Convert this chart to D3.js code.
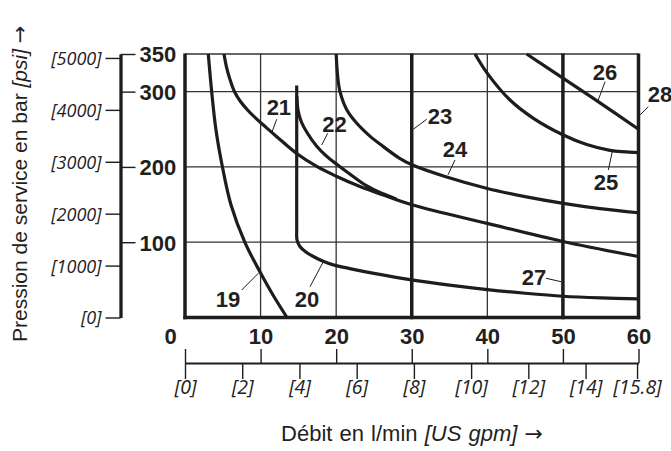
<!DOCTYPE html>
<html>
<head>
<meta charset="utf-8">
<script src="https://cdn.jsdelivr.net/npm/d3@7"></script>
<style>
  html, body { margin: 0; padding: 0; background: #fff; }
  svg { display: block; }
  .num { font-family: "Liberation Sans", Arial, sans-serif; font-weight: bold; fill: #231f20; }
  .ital { font-family: "Open Sans", "DejaVu Sans", sans-serif; font-style: italic; font-weight: 400; fill: #222; }
  .title { font-family: "Liberation Sans", Arial, sans-serif; fill: #231f20; }
  .arrow { font-family: "DejaVu Sans", sans-serif; font-style: normal; }
</style>
</head>
<body>
<svg id="chart" width="671" height="451"></svg>
<script>
// ---- axis ticks ----
const flowTicks = [0, 10, 20, 30, 40, 50, 60];          // l/min
const pressureTicks = [100, 200, 300, 350];              // bar
const psiTicks = [0, 1000, 2000, 3000, 4000, 5000];      // psi
const gpmTicks = [0, 2, 4, 6, 8, 10, 12, 14, 15.8];      // US gpm
const thinFlowGrid = [10, 20, 40];
const pressureGrid = [100, 200, 300, 350];

// ---- operating limit curves: [flow l/min, pressure bar] ----
const curve19 = [[3.08,350],[3.53,300],[4.10,249],[4.96,199.6],[6.09,149.5],[7.94,99.4],[10.02,58.8],[11.64,29.9],[13.5,0]];
const curve20 = [[14.78,308],[14.78,200],[14.78,118],[14.82,103],[15.2,94.3],[16.0,87],[16.98,81],[18.2,75],[19.62,69.9],[21.8,65],[25,58.6],[29.77,50.3],[35,43],[40,37.1],[45,32.2],[50,28.2],[55,26],[60,24.7]];
const curve21 = [[5.16,350],[5.49,332.7],[5.95,316.3],[6.55,299.9],[7.34,286.9],[8.34,275.0],[9.46,263.9],[10.72,252.6],[12.14,240.2],[14.78,217.8],[17.43,200.6],[19.94,188.0],[23.15,174.0],[26.24,162.7],[30.13,149.4],[40,125],[50,101],[60,81]];
const curve22 = [[14.8,294],[14.95,275.6],[15.4,259.7],[16.1,246.4],[17.4,227.8],[18.7,214.5],[20.2,202.6],[21.8,190.6],[24,175],[26.2,164.3],[28,157.2]];
const curve24 = [[20.0,350],[20.2,320.3],[20.5,300.3],[21.4,276],[22.7,258.3],[24.5,240.6],[26.2,227.3],[28.4,211.4],[30.1,202.5],[34.4,187.3],[40.0,171.4],[45.0,160.6],[50.05,151.6],[54.9,144.6],[60,139.1]];
const curve25 = [[38.37,350],[40.0,324.3],[43.0,288.9],[46.1,264.6],[50.05,242.4],[53.15,229.7],[56.23,222.0],[60.0,219.1]];
const curve26 = [[45.2,350],[50,318],[55,284.5],[60,250]];
const curveSeries = [curve19, curve20, curve21, curve22, curve24, curve25, curve26];

// ---- straight flow limits (l/min) ----
const flowLimits = [30, 50, 60];   // lines 23, 27, 28

// ---- curve numbers ----
const curveNames = ["19","20","21","22","23","24","25","26","27","28"];
// label anchor and leader in chart units [flow, pressure]
const labelLayout = [
  { at: [5.69, 14.3],   from: [7.50, 36.5],   to: [9.70, 58.7] },
  { at: [16.14, 14.3],  from: [16.54, 40.9],  to: [18.30, 74.1] },
  { at: [12.42, 268.9], from: [12.13, 263.3], to: [11.47, 245.5] },
  { at: [19.78, 246.8], from: [18.88, 244.7], to: [18.09, 229.1] },
  { at: [33.74, 257.0], from: [31.98, 263.3], to: [30.2, 250.0] },
  { at: [35.72, 213.6], from: [35.72, 209.2], to: [34.8, 189.5] },
  { at: [55.70, 169.4], from: [56.01, 195.9], to: [56.54, 221.0] },
  { at: [55.57, 315.5], from: [55.57, 313.2], to: [54.68, 288.9] },
  { at: [46.18, 43.2],  from: [47.76, 52.1],  to: [49.75, 47.6] },
  { at: [62.85, 286.6], from: [61.30, 280.0], to: [60.2, 268.9] }
];

const BAR_PER_PSI = 0.0689476;
const LPM_PER_GPM = 3.78541;
const ink = "#1e1c1d";

const svg = d3.select("#chart");
const x = d3.scaleLinear().domain([0, 60]).range([185, 638.5]);
const y = d3.scaleLinear().domain([0, 350]).range([317.5, 54]);
const yPsi = d3.scaleLinear().domain([0, 350 / BAR_PER_PSI]).range([317.5, 54]);
const xGpm = d3.scaleLinear().domain([0, 60 / LPM_PER_GPM]).range([185, 638.5]);

const plot = svg.append("g");

// thin grid
plot.selectAll("line.gv").data(thinFlowGrid).join("line")
  .attr("x1", d => x(d)).attr("x2", d => x(d))
  .attr("y1", y(0)).attr("y2", y(350))
  .attr("stroke", "#333").attr("stroke-width", 1.3);
plot.selectAll("line.gh").data(pressureGrid).join("line")
  .attr("x1", x(0)).attr("x2", x(60))
  .attr("y1", d => y(d)).attr("y2", d => y(d))
  .attr("stroke", "#333").attr("stroke-width", 1.3);

// curves
const line = d3.line().x(d => x(d[0])).y(d => y(d[1])).curve(d3.curveCatmullRom.alpha(0.5));
plot.selectAll("path.curve").data(curveSeries).join("path")
  .attr("d", line)
  .attr("fill", "none").attr("stroke", ink)
  .attr("stroke-width", 3.2).attr("stroke-linejoin", "round");

// straight flow limits
plot.selectAll("line.limit").data(flowLimits).join("line")
  .attr("x1", d => x(d)).attr("x2", d => x(d))
  .attr("y1", y(0) + 1.7).attr("y2", y(350) - 0.6)
  .attr("stroke", ink).attr("stroke-width", 3.5);

// frame: left and bottom
plot.append("line")
  .attr("x1", x(0)).attr("x2", x(0)).attr("y1", y(0) + 1.7).attr("y2", y(350) - 0.6)
  .attr("stroke", ink).attr("stroke-width", 3.5);
plot.append("line")
  .attr("x1", x(0) - 1.7).attr("x2", x(60) + 1.7).attr("y1", y(0)).attr("y2", y(0))
  .attr("stroke", ink).attr("stroke-width", 3.5);

// curve numbers with leaders
const ann = plot.selectAll("g.ann").data(curveNames).join("g");
ann.append("line")
  .attr("x1", (d, i) => x(labelLayout[i].from[0])).attr("y1", (d, i) => y(labelLayout[i].from[1]))
  .attr("x2", (d, i) => x(labelLayout[i].to[0])).attr("y2", (d, i) => y(labelLayout[i].to[1]))
  .attr("stroke", ink).attr("stroke-width", 1);
ann.append("text")
  .attr("class", "num")
  .attr("x", (d, i) => x(labelLayout[i].at[0]))
  .attr("y", (d, i) => y(labelLayout[i].at[1]))
  .attr("text-anchor", "middle")
  .attr("font-size", 22)
  .text(d => d);

// pressure axis (bar, right side ticks) and psi (left side ticks)
const barAxis = svg.append("g").attr("transform", "translate(120.5,0)")
  .call(d3.axisRight(y).tickValues(pressureTicks).tickSize(15).tickSizeOuter(0).tickPadding(4));
barAxis.select(".domain").attr("stroke", ink).attr("stroke-width", 3.3);
barAxis.selectAll(".tick line").attr("stroke", ink).attr("stroke-width", 1.4);
barAxis.selectAll(".tick text").attr("class", "num").attr("font-size", 22).attr("dy", "0.36em");

const psiAxis = svg.append("g").attr("transform", "translate(120.5,0)")
  .call(d3.axisLeft(yPsi).tickValues(psiTicks).tickSize(15).tickSizeOuter(0).tickPadding(4)
    .tickFormat(d => "[" + d + "]"));
psiAxis.select(".domain").remove();
psiAxis.selectAll(".tick line").attr("stroke", ink).attr("stroke-width", 1.4);
psiAxis.selectAll(".tick text").attr("class", "ital").attr("font-size", 18).attr("dy", "0.36em");

// flow axis: l/min above the line, US gpm below
const flowAxis = svg.append("g").attr("transform", "translate(0,363)")
  .call(d3.axisTop(x).tickValues(flowTicks).tickSize(14).tickSizeOuter(0).tickPadding(5));
flowAxis.select(".domain").attr("stroke", ink).attr("stroke-width", 2);
flowAxis.selectAll(".tick line").attr("stroke", ink).attr("stroke-width", 1.4);
flowAxis.selectAll(".tick text").attr("class", "num").attr("font-size", 22)
  .attr("dx", d => d === 0 ? -15 : 0);

const gpmAxis = svg.append("g").attr("transform", "translate(0,363)")
  .call(d3.axisBottom(xGpm).tickValues(gpmTicks).tickSize(16).tickSizeOuter(0).tickPadding(1)
    .tickFormat(d => "[" + d + "]"));
gpmAxis.select(".domain").remove();
gpmAxis.selectAll(".tick line").attr("stroke", ink).attr("stroke-width", 1.4);
gpmAxis.selectAll(".tick text").attr("class", "ital").attr("font-size", 19.5);

// axis titles
const xt = svg.append("text").attr("class", "title")
  .attr("x", 412).attr("y", 441).attr("text-anchor", "middle")
  .attr("font-size", 22).attr("word-spacing", 1);
xt.append("tspan").text("Débit en l/min ");
xt.append("tspan").attr("font-style", "italic").text("[US gpm]");
xt.append("tspan").text(" ");
xt.append("tspan").attr("class", "arrow").text("→");

const yt = svg.append("text").attr("class", "title")
  .attr("transform", "translate(27,342) rotate(-90)")
  .attr("text-anchor", "start").attr("font-size", 21);
yt.append("tspan").text("Pression de service en bar ");
yt.append("tspan").attr("font-style", "italic").text("[psi]");
yt.append("tspan").text(" ");
yt.append("tspan").attr("class", "arrow").text("→");
</script>
</body>
</html>
